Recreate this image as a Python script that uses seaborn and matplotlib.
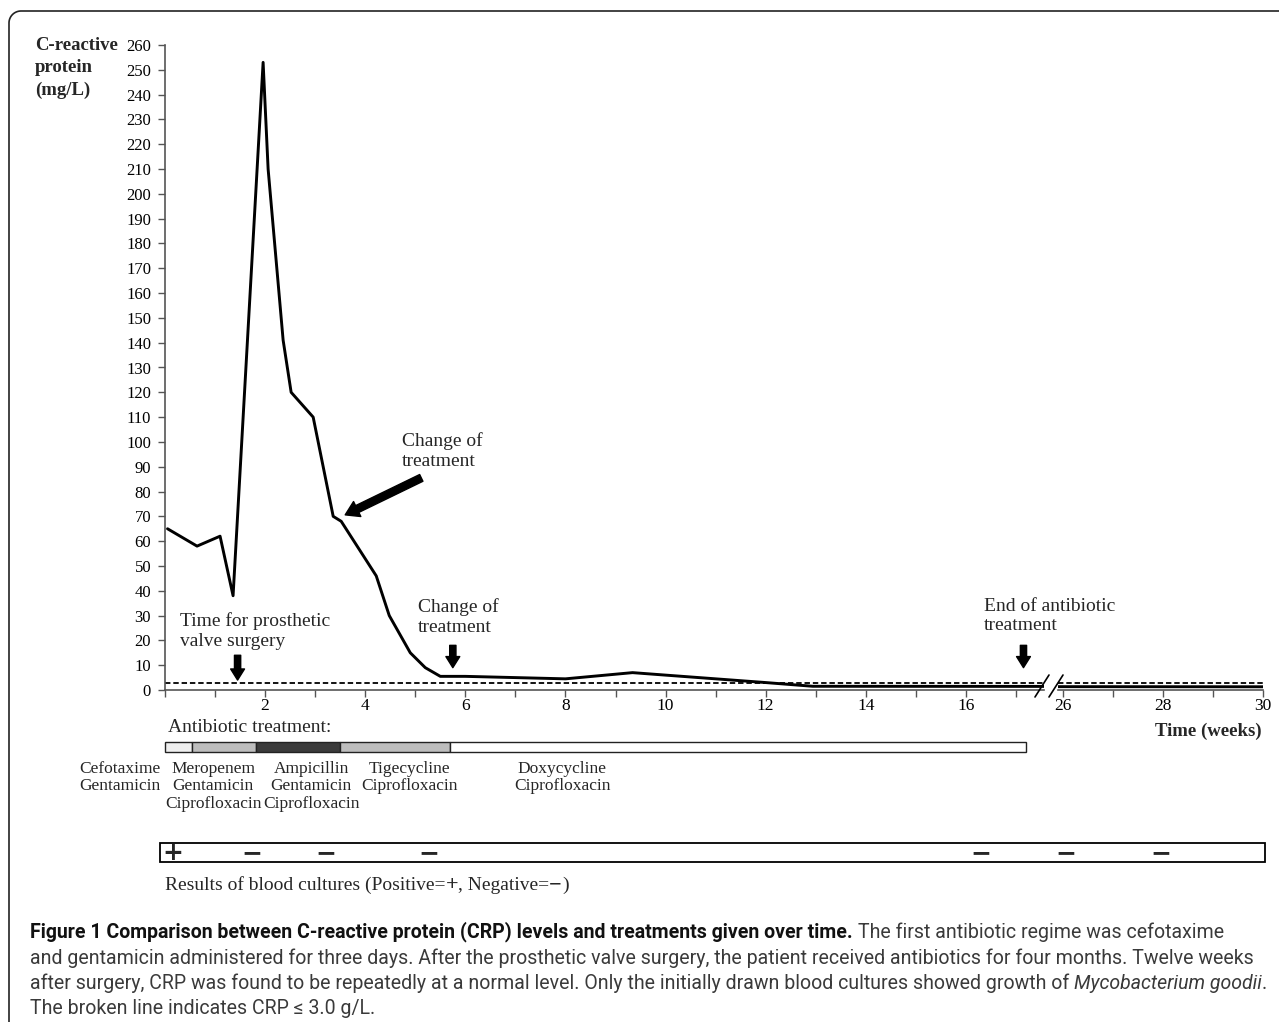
import numpy as np
import pandas as pd
import seaborn as sns
import matplotlib.pyplot as plt
from matplotlib.lines import Line2D
from matplotlib.patches import Rectangle
from matplotlib.transforms import blended_transform_factory

# CRP measurements (weeks, mg/L)
weeks = [0.05, 0.64, 1.1, 1.36, 1.96, 2.06, 2.36, 2.52, 2.96, 3.36, 3.52, 4.22,
         4.48, 4.9, 5.2, 5.5, 6.0, 8.0, 9.34, 10.0, 12.0, 12.94, 30.0]
crp = [65, 58, 62, 38, 253, 210, 141, 120, 110, 70, 68, 46,
       30, 15, 9, 5.5, 5.5, 4.5, 7, 6, 3, 1.5, 1.3]
normal_crp = 3.0

# antibiotic regimes
regimes = ["Cefotaxime\nGentamicin",
           "Meropenem\nGentamicin\nCiprofloxacin",
           "Ampicillin\nGentamicin\nCiprofloxacin",
           "Tigecycline\nCiprofloxacin",
           "Doxycycline\nCiprofloxacin"]
regime_start = [0, 0.54, 1.82, 3.5, 5.7]
regime_end = [0.54, 1.82, 3.5, 5.7, 17.2]
regime_colors = ['#efefef', '#bdbdbd', '#3b3b3b', '#bdbdbd', 'white']
regime_label_x = [-0.9, 0.96, 2.92, 4.88, 7.94]

# blood cultures
culture_weeks = [0.15, 1.74, 3.22, 5.28, 16.3, 26.05, 27.95]
culture_result = ['+', '\u2212', '\u2212', '\u2212', '\u2212', '\u2212', '\u2212']

# events
event_labels = ["Time for prosthetic\nvalve surgery", "Change of\ntreatment",
                "Change of\ntreatment", "End of antibiotic\ntreatment"]
event_weeks = [1.45, 3.6, 5.75, 17.15]

cap_lines = [
    [("Figure 1 Comparison between C-reactive protein (CRP) levels and treatments given over time.", "bold"),
     (" The first antibiotic regime was cefotaxime", "normal")],
    [("and gentamicin administered for three days. After the prosthetic valve surgery, the patient received antibiotics for four months. Twelve weeks", "normal")],
    [("after surgery, CRP was found to be repeatedly at a normal level. Only the initially drawn blood cultures showed growth of", "normal"),
     (" Mycobacterium goodii", "italic"), (".", "normal")],
    [("The broken line indicates CRP \u2264 3.0 g/L.", "normal")],
]
cap_y = [932, 958, 983, 1008]
cap_font = ['Liberation Sans Narrow', 'Roboto', 'DejaVu Sans']

sns.set_style("ticks")
plt.rcParams['font.family'] = ['Liberation Serif', 'DejaVu Serif']

W, H = 1279, 1022
fig = plt.figure(figsize=(W / 100, H / 100), dpi=100)


def fx(px):
    return px / W


def fy(py):
    return 1 - py / H


ax1 = fig.add_axes([fx(165), fy(690), fx(1043.5) - fx(165), fy(45) - fy(690)])
ax2 = fig.add_axes([fx(1058), fy(690), fx(1263) - fx(1058), fy(45) - fy(690)])

df = pd.DataFrame({'week': weeks, 'crp': crp})
for ax in (ax1, ax2):
    ax.set_facecolor('none')
    sns.lineplot(data=df, x='week', y='crp', ax=ax, color='black', linewidth=2.1)
    ax.axhline(normal_crp, color='black', lw=1.3, ls=(0, (3, 1.6)))
    ax.set_ylim(0, 260)
    ax.set_xlabel('')
    ax.set_ylabel('')
    ax.spines[['top', 'right']].set_visible(False)
    ax.spines[['left', 'bottom']].set_color('#555555')
    ax.spines[['left', 'bottom']].set_linewidth(1.2)
    ax.tick_params(which='both', length=5, width=1, color='#555555',
                   labelsize=12.5, labelcolor='black')
    ax.tick_params(axis='x', which='both', pad=1)
    ax.tick_params(axis='y', labelsize=12, pad=5)

ax1.set_xlim(0, 17.55)
ax1.set_xticks(range(2, 17, 2))
ax1.set_xticks(range(0, 18), minor=True)
ax1.set_yticks(np.arange(0, 261, 10))
ax2.set_xlim(25.9, 30)
ax2.set_xticks([26, 28, 30])
ax2.set_xticks([27, 29], minor=True)
ax2.spines['left'].set_visible(False)
ax2.tick_params(axis='y', left=False, labelleft=False)

# axis labels
fig.text(fx(35), fy(37), "C-reactive\nprotein\n(mg/L)", fontsize=13.5, weight='bold',
         ha='left', va='top', linespacing=1.4)
fig.text(fx(1262), fy(731), "Time (weeks)", fontsize=13.5, weight='bold', ha='right', va='center')

# break marks
for cx in (1042, 1056):
    fig.add_artist(Line2D([fx(cx - 7), fx(cx + 7)], [fy(697), fy(675)], color='black', lw=1.2))

# event arrows and labels
arrow_down = dict(arrowstyle='simple,head_length=0.8,head_width=1.0,tail_width=0.45',
                  fc='black', ec='black', mutation_scale=10, shrinkA=0, shrinkB=0)
ax1.annotate('', xy=(event_weeks[0], 4), xytext=(event_weeks[0], 14), arrowprops=arrow_down)
ax1.annotate('', xy=(event_weeks[1], 70.6), xytext=(5.12, 85.5),
             arrowprops=dict(arrow_down, mutation_scale=12))
ax1.annotate('', xy=(event_weeks[2], 9), xytext=(event_weeks[2], 18), arrowprops=arrow_down)
ax1.annotate('', xy=(event_weeks[3], 9), xytext=(event_weeks[3], 18), arrowprops=arrow_down)

label_pos = [(0.3, 23.8), (4.74, 96.2), (5.06, 29.4), (16.36, 29.8)]
for lab, (tx, ty) in zip(event_labels, label_pos):
    ax1.text(tx, ty, lab, fontsize=14, ha='left', va='center', linespacing=1.2,
             clip_on=False, zorder=5)

# antibiotic treatment bar
trans1 = blended_transform_factory(ax1.transData, fig.transFigure)
fig.text(fx(168), fy(727), "Antibiotic treatment:", fontsize=14, ha='left', va='center')
for s, e, c in zip(regime_start, regime_end, regime_colors):
    ax1.add_patch(Rectangle((s, fy(752)), e - s, fy(742) - fy(752), transform=trans1,
                            fc=c, ec='#222222', lw=1.0, clip_on=False))
for lab, x in zip(regimes, regime_label_x):
    ax1.text(x, fy(761), lab, transform=trans1, fontsize=12.5, ha='center', va='top',
             linespacing=1.12, clip_on=False)

# blood cultures
fig.add_artist(Rectangle((fx(160), fy(862)), fx(1265) - fx(160), fy(843) - fy(862),
                         transform=fig.transFigure, fill=False, ec='black', lw=1.3))
for w, r in zip(culture_weeks, culture_result):
    ax = ax1 if w < 20 else ax2
    tr = blended_transform_factory(ax.transData, fig.transFigure)
    ax.text(w, fy(853), r, transform=tr, fontsize=18, weight='bold', ha='center',
            va='center', clip_on=False, family=['DejaVu Sans'])

# outer frame with rounded corner
t = np.linspace(np.pi, np.pi / 2, 20)
bx = np.concatenate([[9], 21 + 12 * np.cos(t), [1279]])
by = np.concatenate([[0], 999 + 12 * np.sin(t), [1011]])
fig.add_artist(Line2D(bx / W, by / H, color='#222222', lw=1.2))


def space_width(fs, family):
    r = fig.canvas.get_renderer()
    probe = fig.text(0, 0, "a a", fontsize=fs, family=family)
    sp = probe.get_window_extent(r).width
    probe.set_text("aa")
    sp -= probe.get_window_extent(r).width
    probe.remove()
    return sp


def draw_runs(x, py, runs, fs, family, sp):
    # runs of (text, style-kwargs) placed one after another on a line
    r = fig.canvas.get_renderer()
    arts = []
    for s, kw in runs:
        kw = dict(kw)
        size = kw.pop('size', fs)
        if s.startswith(" "):
            x += sp
            s = s[1:]
        tx = fig.text(x / W, fy(py), s, fontsize=size, family=family,
                      ha='left', va='center', **kw)
        arts.append(tx)
        x += tx.get_window_extent(r).width
    return arts, x


# results legend
res_family = ['Liberation Serif', 'DejaVu Serif']
draw_runs(165, 885, [("Results of blood cultures (Positive=", {}),
                     ("+", dict(weight='bold', size=16)),
                     (", Negative=", {}),
                     ("\u2212", dict(weight='bold', size=16)),
                     (")", {})], 14, res_family, space_width(14, res_family))


# caption
def draw_caption(fs):
    sp = space_width(fs, cap_font)
    arts, right = [], 0
    for segs, py in zip(cap_lines, cap_y):
        runs = []
        for s, st in segs:
            if st == 'bold':
                runs.append((s, dict(weight='bold', color='#111111')))
            else:
                runs.append((s, dict(style='italic' if st == 'italic' else 'normal',
                                     color='#3a3a3a')))
        a, x = draw_runs(30, py, runs, fs, cap_font, sp)
        arts += a
        right = max(right, x)
    return arts, right


arts, right = draw_caption(13)
for a in arts:
    a.remove()
draw_caption(13 * (1266 - 30) / (right - 30))

fig.savefig('out.png', dpi=100)
